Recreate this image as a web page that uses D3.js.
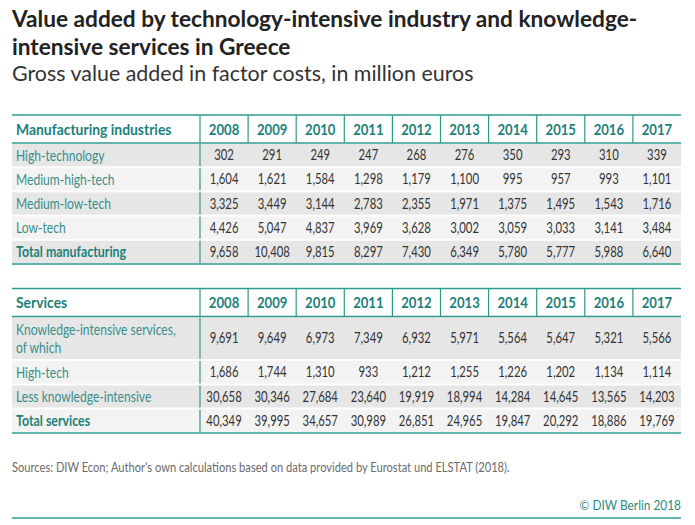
<!DOCTYPE html>
<html>
<head>
<meta charset="utf-8">
<script src="https://cdn.jsdelivr.net/npm/d3@7"></script>
<style>
  html, body { margin: 0; padding: 0; background: #fff; }
  svg { display: block; font-family: Lato, "Open Sans", sans-serif; }
</style>
</head>
<body>
<svg id="chart" width="695" height="525"></svg>
<script>
// ---------------- DATA ----------------
const titleLines = ["Value added by technology-intensive industry and knowledge-", "intensive services in Greece"];
const subtitle = "Gross value added in factor costs, in million euros";
const years = [2008, 2009, 2010, 2011, 2012, 2013, 2014, 2015, 2016, 2017];

const manufacturingHeader = "Manufacturing industries";
const manufacturingRows = ["High-technology", "Medium-high-tech", "Medium-low-tech", "Low-tech", "Total manufacturing"];
const highTechnology   = [302, 291, 249, 247, 268, 276, 350, 293, 310, 339];
const mediumHighTech   = [1604, 1621, 1584, 1298, 1179, 1100, 995, 957, 993, 1101];
const mediumLowTech    = [3325, 3449, 3144, 2783, 2355, 1971, 1375, 1495, 1543, 1716];
const lowTech          = [4426, 5047, 4837, 3969, 3628, 3002, 3059, 3033, 3141, 3484];
const totalManufacturing = [9658, 10408, 9815, 8297, 7430, 6349, 5780, 5777, 5988, 6640];

const servicesHeader = "Services";
const servicesRows = [["Knowledge-intensive services,", "of which"], ["High-tech"], ["Less knowledge-intensive"], ["Total services"]];
const knowledgeIntensive = [9691, 9649, 6973, 7349, 6932, 5971, 5564, 5647, 5321, 5566];
const highTechServices   = [1686, 1744, 1310, 933, 1212, 1255, 1226, 1202, 1134, 1114];
const lessKnowledge      = [30658, 30346, 27684, 23640, 19919, 18994, 14284, 14645, 13565, 14203];
const totalServices      = [40349, 39995, 34657, 30989, 26851, 24965, 19847, 20292, 18886, 19769];

const sourceText = "Sources: DIW Econ; Author's own calculations based on data provided by Eurostat und ELSTAT (2018).";
const copyrightText = "© DIW Berlin 2018";

// ---------------- STYLE ----------------
const TEAL_LINE = "#2c9a91";
const TEAL_HEAD = "#1d8179";
const TEAL_LABEL = "#378f8a";
const NUM_COLOR = "#333333";
const ROW_DARK = "#e6e6e6";
const ROW_LIGHT = "#f3f3f3";
const LEFT = 12, RIGHT = 681, LABEL_END = 200;

const svg = d3.select("#chart");
const fmt = d3.format(",");

function txt(g, x, y, s, o) {
  return g.append("text")
    .attr("transform", `translate(${x},${y}) scale(${o.sx || 1},1)`)
    .attr("text-anchor", o.anchor || "start")
    .attr("dy", "0.35em")
    .style("font-size", o.size + "px")
    .style("font-weight", o.weight || 400)
    .attr("fill", o.fill)
    .text(s);
}

// Title
titleLines.forEach((t, i) => {
  txt(svg, LEFT, 19 + i * 28, t, {size: 22, weight: 700, fill: "#222", sx: 1.03});
});
txt(svg, LEFT, 74, subtitle, {size: 21, weight: 400, fill: "#333", sx: 1.02});

const x = d3.scaleBand().domain(years).range([LABEL_END, RIGHT]);

function drawTable(top, headH, header, rowLabels, rowHeights, series, boldLast) {
  const g = svg.append("g");
  const headBottom = top + headH;
  const ys = [];
  let yy = headBottom;
  rowHeights.forEach(h => { ys.push([yy, yy + h]); yy += h; });
  const bottom = yy;

  ys.forEach(([y0, y1], i) => {
    g.append("rect").attr("x", LEFT).attr("y", y0 + 1).attr("width", RIGHT - LEFT)
      .attr("height", y1 - y0 - 2).attr("fill", i % 2 === 0 ? ROW_DARK : ROW_LIGHT);
    g.append("line").attr("x1", LABEL_END).attr("x2", LABEL_END).attr("y1", y0 + 1).attr("y2", y1 - 1)
      .attr("stroke", TEAL_LINE).attr("stroke-width", 1.2);
  });

  [LABEL_END, ...years.slice(1).map(d => x(d))].forEach(px => {
    g.append("line").attr("x1", px).attr("x2", px).attr("y1", top).attr("y2", headBottom)
      .attr("stroke", TEAL_LINE).attr("stroke-width", 1.2);
  });

  [top, headBottom, bottom].forEach(py => {
    g.append("line").attr("x1", LEFT).attr("x2", RIGHT).attr("y1", py).attr("y2", py)
      .attr("stroke", TEAL_LINE).attr("stroke-width", 1.6);
  });

  const hc = top + headH / 2;
  txt(g, LEFT + 4, hc, header, {size: 16, weight: 700, fill: TEAL_HEAD, sx: 0.87});
  years.forEach(yv => {
    txt(g, x(yv) + x.bandwidth() / 2, hc, yv, {size: 16, weight: 700, fill: TEAL_HEAD, sx: 0.82, anchor: "middle"});
  });

  rowLabels.forEach((lab, i) => {
    const [y0, y1] = ys[i];
    const c = (y0 + y1) / 2;
    const isTotal = boldLast && i === rowLabels.length - 1;
    const lines = Array.isArray(lab) ? lab : [lab];
    const lh = 18;
    lines.forEach((l, j) => {
      const ly = c + (j - (lines.length - 1) / 2) * lh;
      txt(g, LEFT + 4, ly, l, {size: 15.5, weight: isTotal ? 700 : 400, fill: isTotal ? TEAL_HEAD : TEAL_LABEL, sx: isTotal ? 0.8 : 0.78});
    });
    series[i].forEach((v, k) => {
      txt(g, x(years[k]) + x.bandwidth() / 2, c, fmt(v), {size: 14.5, weight: 400, fill: NUM_COLOR, sx: 0.78, anchor: "middle"});
    });
  });
}

drawTable(115, 28, manufacturingHeader, manufacturingRows, [24.2, 24.2, 24.2, 24.2, 24.2],
  [highTechnology, mediumHighTech, mediumLowTech, lowTech, totalManufacturing], true);

drawTable(288.5, 28, servicesHeader, servicesRows, [43.5, 24.5, 24, 24.5],
  [knowledgeIntensive, highTechServices, lessKnowledge, totalServices], true);

// Footer
txt(svg, LEFT, 467, sourceText, {size: 13, weight: 400, fill: "#6b6b6b", sx: 0.857});
txt(svg, RIGHT, 505, copyrightText, {size: 13.5, weight: 400, fill: "#2a8a84", sx: 0.88, anchor: "end"});
svg.append("line").attr("x1", LEFT).attr("x2", RIGHT).attr("y1", 518).attr("y2", 518)
  .attr("stroke", TEAL_LINE).attr("stroke-width", 1.6);
</script>
</body>
</html>
